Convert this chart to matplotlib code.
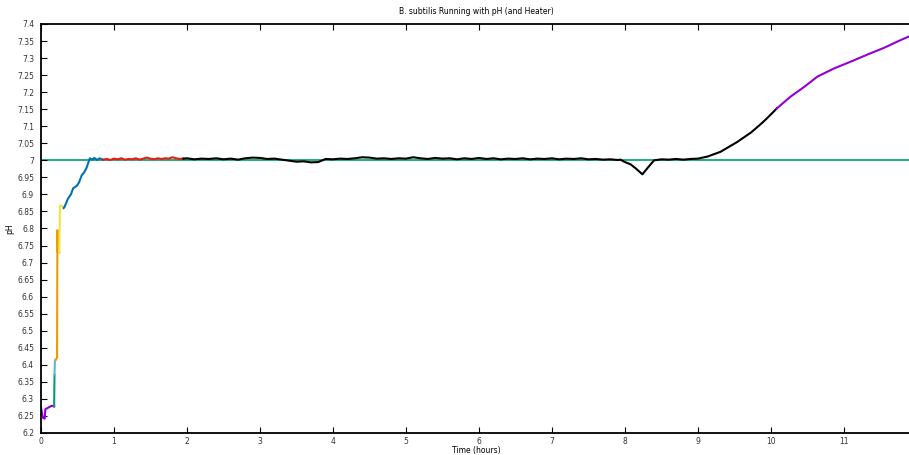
import matplotlib
matplotlib.use("Agg")
import matplotlib.pyplot as plt

# pH readings, one list pair per logged run segment (time in hours)
seg1_t = [0.0, 0.01, 0.02, 0.03, 0.05, 0.06, 0.08, 0.12, 0.15, 0.18]
seg1_ph = [6.276, 6.262, 6.25, 6.244, 6.242, 6.27, 6.272, 6.277, 6.28, 6.278]

seg2_t = [0.18, 0.185]
seg2_ph = [6.278, 6.37]

seg3_t = [0.185, 0.19, 0.2]
seg3_ph = [6.37, 6.41, 6.415]

seg4_t = [0.2, 0.22, 0.225, 0.23, 0.24, 0.25]
seg4_ph = [6.415, 6.42, 6.795, 6.73, 6.736, 6.73]

seg5_t = [0.25, 0.26, 0.28, 0.31]
seg5_ph = [6.73, 6.868, 6.866, 6.865]

seg6_t = [0.31, 0.32, 0.37, 0.41, 0.44, 0.49, 0.52, 0.56, 0.59, 0.62, 0.67, 0.70, 0.73, 0.77, 0.80, 0.85]
seg6_ph = [6.86, 6.862, 6.888, 6.9, 6.918, 6.925, 6.935, 6.957, 6.964, 6.976, 7.006, 7.002, 7.007, 7.001, 7.006, 7.002]

seg7_t = [0.85, 0.9, 0.95, 1.0, 1.05, 1.1, 1.15, 1.2, 1.25, 1.3, 1.35, 1.4, 1.45,
          1.5, 1.55, 1.6, 1.65, 1.7, 1.75, 1.8, 1.85, 1.9, 1.95]
seg7_ph = [7.002, 7.004, 7.001, 7.005, 7.003, 7.006, 7.002, 7.004, 7.003, 7.006, 7.002, 7.005, 7.008,
           7.005, 7.003, 7.006, 7.004, 7.006, 7.005, 7.009, 7.006, 7.004, 7.005]

seg8_t = [1.95, 2.0, 2.1, 2.2, 2.3, 2.4, 2.5, 2.6, 2.7, 2.8, 2.9, 3.0, 3.1, 3.2, 3.3,
          3.4, 3.5, 3.6, 3.7, 3.8, 3.9, 4.0, 4.1, 4.2, 4.3, 4.4, 4.5, 4.6, 4.7, 4.8,
          4.9, 5.0, 5.1, 5.2, 5.3, 5.4, 5.5, 5.6, 5.7, 5.8, 5.9, 6.0, 6.1, 6.2, 6.3,
          6.4, 6.5, 6.6, 6.7, 6.8, 6.9, 7.0, 7.1, 7.2, 7.3, 7.4, 7.5, 7.6, 7.7, 7.8,
          7.9, 7.94, 7.99, 8.08, 8.15, 8.24, 8.32, 8.4, 8.5, 8.6, 8.7, 8.8, 8.9, 9.0,
          9.13, 9.31, 9.54, 9.73, 9.86, 9.95, 10.08]
seg8_ph = [7.005, 7.006, 7.003, 7.005, 7.004, 7.006, 7.003, 7.005, 7.002, 7.006, 7.008, 7.007, 7.004, 7.005, 7.002,
           6.999, 6.996, 6.997, 6.994, 6.995, 7.004, 7.003, 7.005, 7.004, 7.006, 7.009, 7.008, 7.005, 7.006, 7.004,
           7.006, 7.005, 7.009, 7.006, 7.004, 7.007, 7.005, 7.006, 7.003, 7.006, 7.004, 7.007, 7.004, 7.006, 7.003,
           7.005, 7.004, 7.006, 7.003, 7.005, 7.004, 7.006, 7.003, 7.005, 7.004, 7.006, 7.003, 7.004, 7.002, 7.003,
           7.001, 7.002, 6.996, 6.988, 6.976, 6.959, 6.98, 7.0, 7.003, 7.002, 7.004, 7.002, 7.004, 7.005,
           7.011, 7.025, 7.054, 7.082, 7.106, 7.124, 7.152]

seg9_t = [10.08, 10.27, 10.46, 10.64, 10.87, 11.1, 11.33, 11.55, 11.78, 11.92]
seg9_ph = [7.152, 7.187, 7.216, 7.246, 7.27, 7.29, 7.311, 7.33, 7.353, 7.366]

setpoint = 7.0

segments = [(seg1_t, seg1_ph), (seg2_t, seg2_ph), (seg3_t, seg3_ph), (seg4_t, seg4_ph),
            (seg5_t, seg5_ph), (seg6_t, seg6_ph), (seg7_t, seg7_ph), (seg8_t, seg8_ph),
            (seg9_t, seg9_ph)]
# gnuplot default line colours
colors = ["#9400d3", "#009e73", "#56b4e9", "#e69f00", "#f0e442",
          "#0072b2", "#e51e10", "#000000", "#9400d3"]

fig = plt.figure(figsize=(9.09, 4.55), dpi=100)
ax = fig.add_axes([41 / 909, 22 / 455, 870 / 909, 409 / 455])

ax.axhline(setpoint, color="#009e73", lw=1.2, zorder=1)
for (t, ph), c in zip(segments, colors):
    ax.plot(t, ph, color=c, lw=1.5, zorder=2)

ax.set_xlim(0, 11.92)
ax.set_ylim(6.2, 7.4)
ax.set_xticks(range(0, 12))
yt = [6.2 + 0.05 * i for i in range(25)]
ax.set_yticks(yt)
ax.set_yticklabels(["%g" % round(v, 2) for v in yt])

ax.tick_params(direction="in", length=4, width=0.8, labelsize=5.5,
               top=True, right=False, colors="black", labelcolor="#333333")
ax.tick_params(axis="x", pad=3)
ax.tick_params(axis="y", pad=5)
for s in ax.spines.values():
    s.set_linewidth(1.3)

ax.set_title("B. subtilis Running with pH (and Heater)", fontsize=5.5, pad=7)
ax.set_xlabel("Time (hours)", fontsize=5.5)
ax.set_ylabel("pH", fontsize=5.5)
ax.xaxis.set_label_coords(0.5, -0.032)
ax.yaxis.set_label_coords(-0.031, 0.5)

fig.savefig("out.png", dpi=100)
